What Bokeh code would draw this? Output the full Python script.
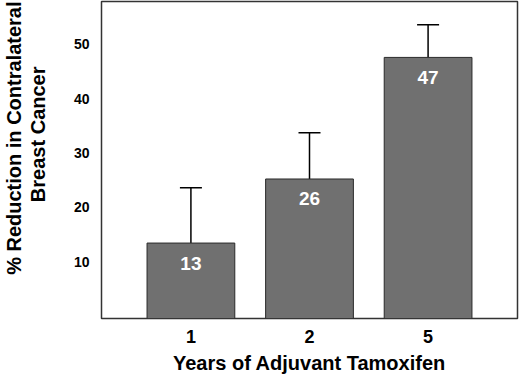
from bokeh.plotting import figure
from bokeh.models import ColumnDataSource, FactorRange, Range1d, FixedTicker, Whisker, TeeHead, Title
from bokeh.core.properties import value
from bokeh.embed import file_html
from bokeh.resources import INLINE

# data
years = ["1", "2", "5"]
reduction = [13.4, 25.2, 47.6]          # bar heights
upper_ci = [23.6, 33.7, 53.6]           # top of error bars
bar_labels = ["13", "26", "47"]         # printed values
y_ticks = [10, 20, 30, 40, 50]
y_title = ["% Reduction in Contralateral", "Breast Cancer"]
x_title = "Years of Adjuvant Tamoxifen"

FONT = "Liberation Sans"

src = ColumnDataSource(dict(x=years, top=reduction, upper=upper_ci, lbl=bar_labels))

p = figure(
    width=519, height=376,
    x_range=FactorRange(factors=years, range_padding=0.254, range_padding_units="absolute"),
    y_range=Range1d(-0.5, 57.9),
    output_backend="svg", toolbar_location=None,
    min_border_left=99, min_border_right=2, min_border_top=1, min_border_bottom=58,
)
p.outline_line_color = "#333333"
p.outline_line_width = 1.5
p.xgrid.visible = False
p.ygrid.visible = False
p.background_fill_color = "white"
p.border_fill_color = "white"

p.vbar(x="x", top="top", bottom=-0.5, width=0.74, source=src,
       fill_color="#707070", line_color="#2a2a2a", line_width=1)

p.add_layout(Whisker(source=src, base="x", lower="top", upper="upper",
                     line_color="black", line_width=1.5,
                     upper_head=TeeHead(size=22, line_color="black", line_width=1.5),
                     lower_head=None))

p.text(x="x", y="top", text="lbl", source=src, text_color="white",
       text_font=value(FONT), text_font_style="bold", text_font_size="19px",
       text_align="center", text_baseline="middle", y_offset=20)

# axes
p.yaxis.ticker = FixedTicker(ticks=y_ticks)
p.yaxis.axis_line_color = None
p.yaxis.major_tick_line_color = None
p.yaxis.minor_tick_line_color = None
p.yaxis.major_tick_out = 0
p.yaxis.major_label_text_font = FONT
p.yaxis.major_label_text_font_style = "bold"
p.yaxis.major_label_text_font_size = "14px"
p.yaxis.major_label_text_color = "black"
p.yaxis.major_label_standoff = 12
# blank axis label only reserves a gap between tick labels and the title
p.yaxis.axis_label = " "
p.yaxis.axis_label_text_font_size = "10px"
p.yaxis.axis_label_standoff = 8

p.xaxis.axis_line_color = None
p.xaxis.major_tick_line_color = None
p.xaxis.minor_tick_line_color = None
p.xaxis.major_tick_out = 0
p.xaxis.major_label_text_font = FONT
p.xaxis.major_label_text_font_style = "bold"
p.xaxis.major_label_text_font_size = "18px"
p.xaxis.major_label_text_color = "black"
p.xaxis.major_label_standoff = 11
p.xaxis.axis_label = x_title
p.xaxis.axis_label_text_font = FONT
p.xaxis.axis_label_text_font_style = "bold"
p.xaxis.axis_label_text_font_size = "20px"
p.xaxis.axis_label_text_color = "black"
p.xaxis.axis_label_standoff = 6

# y title: two lines, second line closest to the axis
for txt, off in [(y_title[1], 65), (y_title[0], 0)]:
    p.add_layout(Title(text=txt, align="right", offset=off, standoff=0,
                       text_font=FONT, text_font_style="bold", text_font_size="20px",
                       text_color="black"), "left")

open("out.html", "w").write(file_html(p, INLINE))
